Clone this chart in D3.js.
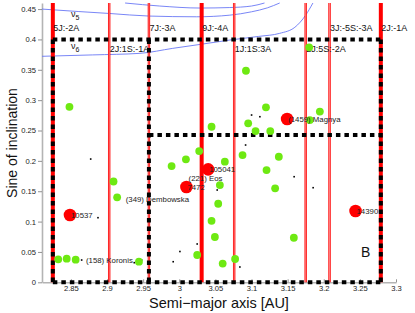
<!DOCTYPE html>
<html><head><meta charset="utf-8">
<script src="https://cdn.jsdelivr.net/npm/d3@7"></script>
<style>body{margin:0;background:#fff}svg{display:block;font-family:"Liberation Sans",Arial,Helvetica,sans-serif}</style>
</head><body><svg id="c" width="415" height="313"></svg>
<script>
// ---------- data ----------
const xTicks = [2.85,2.9,2.95,3,3.05,3.1,3.15,3.2,3.25,3.3];
const xTickLabels = ["2.85","2.9","2.95","3","3.05","3.1","3.15","3.2","3.25","3.3"];
const yTicks = [0,0.05,0.1,0.15,0.2,0.25,0.3,0.35,0.4,0.45];
const yTickLabels = ["0","0.05","0.1","0.15","0.2","0.25","0.3","0.35","0.4","0.45"];

const resA      = [2.825, 2.903, 2.958, 3.031, 3.076, 3.175, 3.208, 3.279];
const resLabels = ["5J:-2A","2J:1S:-1A","7J:-3A","9J:-4A","1J:1S:3A","2J:5S:-2A","3J:-5S:-3A","2J:-1A"];
const resStrong = [true, false, false, true, false, false, false, true];
const resTier   = [0, 1, 0, 0, 1, 1, 0, 0];

// secular resonance curves (a, sin i)
const nu5a = [[2.81,0.450],[2.86,0.446],[2.904,0.4427],[2.958,0.4385],[3.024,0.4373],[3.07,0.440],[3.10,0.4455],[3.122,0.452],[3.139,0.460]];
const nu5b = [[2.925,0.460],[2.973,0.455],[3.029,0.4517],[3.07,0.4525],[3.10,0.455],[3.118,0.460]];
const nu6  = [[2.81,0.3722],[2.88,0.3745],[2.9456,0.3771],[2.991,0.3853],[3.03,0.392],[3.07,0.399],[3.11,0.405],[3.139,0.41],[3.16,0.42],[3.175,0.44],[3.185,0.46]];

// family-B boundary (dashed box)
const boxA = [2.825, 2.958, 3.279];
const boxS = [0, 0.2425, 0.40];

const greenA = [2.848,2.909,2.914,2.8325,2.8442,2.8566,2.9442,3.0447,3.0276,3.0092,2.9894,3.0562,3.0539,3.0447,3.0493,3.0248,3.0601,3.0773,3.0954,3.1056,3.120,3.126,3.1807,3.1946,3.0631,3.0876,3.1378,3.1208,3.1327,3.1586,3.0923,3.1798];
const greenS = [0.289,0.166,0.140,0.0379,0.0389,0.0372,0.0339,0.2562,0.2162,0.2025,0.1915,0.1602,0.1294,0.1013,0.0746,0.045,0.0308,0.0384,0.2618,0.2491,0.2882,0.2491,0.2672,0.2812,0.1986,0.2096,0.2068,0.1849,0.1548,0.0734,0.3484,0.387];

const redA = [2.8487, 3.0099, 3.040, 3.1493, 3.244];
const redS = [0.1108, 0.1569, 0.186, 0.2689, 0.1174];

const dotA = [2.8774,2.8875,2.8649,2.9377,2.9479,3.0248,3.0009,2.9916,3.0839,3.1001,3.1116,3.0918,3.0525,3.159,3.1853];
const dotS = [0.203,0.1064,0.0367,0.0323,0.0367,0.0631,0.0507,0.0339,0.0252,0.2755,0.2727,0.2261,0.152,0.1739,0.1558];

const nameText = ["10537","7472","105041","(1459) Magnya","14390","(221) Eos","(349) Dembowska","(158) Koronis"];
const nameA    = [2.8487, 3.0099, 3.040, 3.1493, 3.244, 3.0115, 2.9245, 2.8695];
const nameS    = [0.1108, 0.1569, 0.186, 0.2689, 0.1174, 0.1713, 0.137, 0.0367];

const regionLabel = "B";
const regionA = 3.2516, regionS = 0.05;

// ---------- drawing ----------
const svg = d3.select("#c");
const x = d3.scaleLinear().domain([2.81,3.3]).range([42,396]);
const y = d3.scaleLinear().domain([0,0.46]).range([282.3,3]);
const RED = "#ff0000", GREEN = "#6ee912", BLUE = "#6a78f5";

// axes
const gx = svg.append("g").attr("transform",`translate(0,${y(0)})`)
  .call(d3.axisBottom(x).tickValues(xTicks).tickFormat((d,i)=>xTickLabels[i]).tickSizeInner(-3).tickSizeOuter(0).tickPadding(3.5));
const gy = svg.append("g").attr("transform",`translate(${x(2.81)},0)`)
  .call(d3.axisLeft(y).tickValues(yTicks).tickFormat((d,i)=>yTickLabels[i]).tickSizeInner(4).tickSizeOuter(0).tickPadding(2));
[gx,gy].forEach(g=>{
  g.select(".domain").attr("stroke","#b4b4b4").attr("stroke-width",1.6);
  g.selectAll(".tick line").attr("stroke","#777").attr("stroke-width",0.8);
  g.selectAll(".tick text").attr("font-size",7.6).attr("fill","#222").attr("font-family","Liberation Sans, Arial, sans-serif");
});

// secular curves
const line = d3.line().x(d=>x(d[0])).y(d=>y(d[1])).curve(d3.curveMonotoneX);
svg.append("clipPath").attr("id","pc").append("rect").attr("x",x(2.81)).attr("y",0).attr("width",x(3.3)-x(2.81)).attr("height",y(0));
[nu5a,nu5b,nu6].forEach(c=>svg.append("path").attr("d",line(c)).attr("fill","none").attr("stroke",BLUE).attr("stroke-width",0.9).attr("clip-path","url(#pc)"));

// resonance lines
resA.forEach((a,i)=>{
  const thick = resStrong[i];
  svg.append("line").attr("x1",x(a)).attr("x2",x(a)).attr("y1",y(0.46)).attr("y2",y(0))
    .attr("stroke",RED).attr("stroke-width",thick?4:2.4);
  if(!thick) svg.append("line").attr("x1",x(a)).attr("x2",x(a)).attr("y1",y(0.46)).attr("y2",y(0))
    .attr("stroke","#ffb4b4").attr("stroke-width",0.7);
});

// dashed box
const dash = (x1,y1,x2,y2)=>svg.append("line").attr("x1",x1).attr("y1",y1).attr("x2",x2).attr("y2",y2)
  .attr("stroke","#000").attr("stroke-width",4).attr("stroke-dasharray","4.5,4");
dash(x(boxA[0]),y(boxS[2]),x(boxA[2]),y(boxS[2]));
dash(x(boxA[1]),y(boxS[1]),x(boxA[2]),y(boxS[1]));
dash(x(boxA[0]),y(boxS[0]),x(boxA[2]),y(boxS[0]));
boxA.forEach(a=>dash(x(a),y(boxS[2]),x(a),y(boxS[0])));

// resonance labels
resA.forEach((a,i)=>{
  svg.append("text").attr("x",x(a)+0.5).attr("y",resTier[i]?51.5:30.5).attr("font-size",9)
    .attr("fill","#111").text(resLabels[i]);
});

// nu labels
[[0.437,"5"],[0.385,"6"]].forEach(([s,sub])=>{
  const t = svg.append("text").attr("x",71).attr("y",y(s)).attr("font-size",9).attr("fill","#111");
  t.append("tspan").text("ν");
  t.append("tspan").attr("font-size",7).attr("dy",3).text(sub);
});

// points
svg.append("g").selectAll("rect").data(dotA).join("rect")
  .attr("x",(d,i)=>x(d)-0.8).attr("y",(d,i)=>y(dotS[i])-0.8).attr("width",1.6).attr("height",1.6).attr("fill","#000");
svg.append("g").selectAll("circle").data(greenA).join("circle")
  .attr("cx",d=>x(d)).attr("cy",(d,i)=>y(greenS[i])).attr("r",3.9).attr("fill",GREEN);
svg.append("g").selectAll("circle").data(redA).join("circle")
  .attr("cx",d=>x(d)).attr("cy",(d,i)=>y(redS[i])).attr("r",6.3).attr("fill",RED);

// names
nameText.forEach((t,i)=>{
  svg.append("text").attr("x",x(nameA[i])+1).attr("y",y(nameS[i])+2.8).attr("font-size",7.8).attr("fill","#222").text(t);
});

svg.append("text").attr("x",x(regionA)).attr("y",y(regionS)+5).attr("font-size",14).attr("fill","#111").text(regionLabel);

// axis titles
svg.append("text").attr("x",219).attr("y",307.5).attr("text-anchor","middle").attr("font-size",14.5).attr("fill","#111").text("Semi−major axis [AU]");
svg.append("text").attr("transform","translate(17,143) rotate(-90)").attr("text-anchor","middle").attr("font-size",14).attr("fill","#111").text("Sine of inclination");
</script></body></html>
